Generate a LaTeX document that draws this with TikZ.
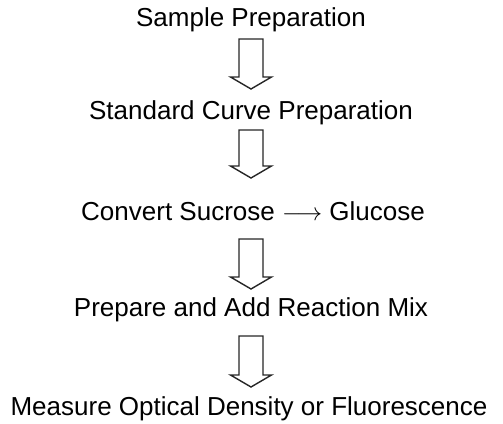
\documentclass[tikz,border=0pt]{standalone}
\usepackage{fontspec}
\setmainfont{Liberation Sans}
\usetikzlibrary{calc}
\tikzstyle{stage} = [font=\fontsize{26}{30}\selectfont, anchor=base, inner sep=0pt]
\tikzstyle{flow} = [draw=black!85, line width=1.4pt, fill=white, line join=miter,
  to path={let \p1=(\tikztostart), \p2=(\tikztotarget) in
    (\x1-12pt,\y1) -- (\x1+12pt,\y1) -- (\x1+12pt,\y2+12pt)
    -- (\x1+20.5pt,\y2+12pt) -- (\x2,\y2) -- (\x1-20.5pt,\y2+12pt)
    -- (\x1-12pt,\y2+12pt) -- cycle}]

\begin{document}
\begin{tikzpicture}[x=1pt,y=-1pt]
\useasboundingbox (0,0) rectangle (503,423);

\node[stage] (sample)   at (251,27)  {Sample Preparation};
\node[stage] (standard) at (251,119) {Standard Curve Preparation};
\node[stage] (convert)  at (253,220) {Convert Sucrose \ensuremath{\longrightarrow} Glucose};
\node[stage] (mix)      at (251,316) {Prepare and Add Reaction Mix};
\node[stage] (measure)  at (249,415) {Measure Optical Density or Fluorescence};

% arrow ends
\coordinate (t1) at ([yshift=-12pt]sample.base);
\coordinate (h1) at ([yshift=30pt]standard.base);
\coordinate (t2) at ([yshift=-11pt]standard.base);
\coordinate (h2) at ([xshift=-2pt,yshift=42pt]convert.base);
\coordinate (t3) at ([xshift=-2pt,yshift=-19pt]convert.base);
\coordinate (h3) at ([yshift=27pt]mix.base);
\coordinate (t4) at ([yshift=-20pt]mix.base);
\coordinate (h4) at ([xshift=2pt,yshift=28pt]measure.base);

\draw[flow] (t1) to (h1);
\draw[flow] (t2) to (h2);
\draw[flow] (t3) to (h3);
\draw[flow] (t4) to (h4);
\end{tikzpicture}
\end{document}
